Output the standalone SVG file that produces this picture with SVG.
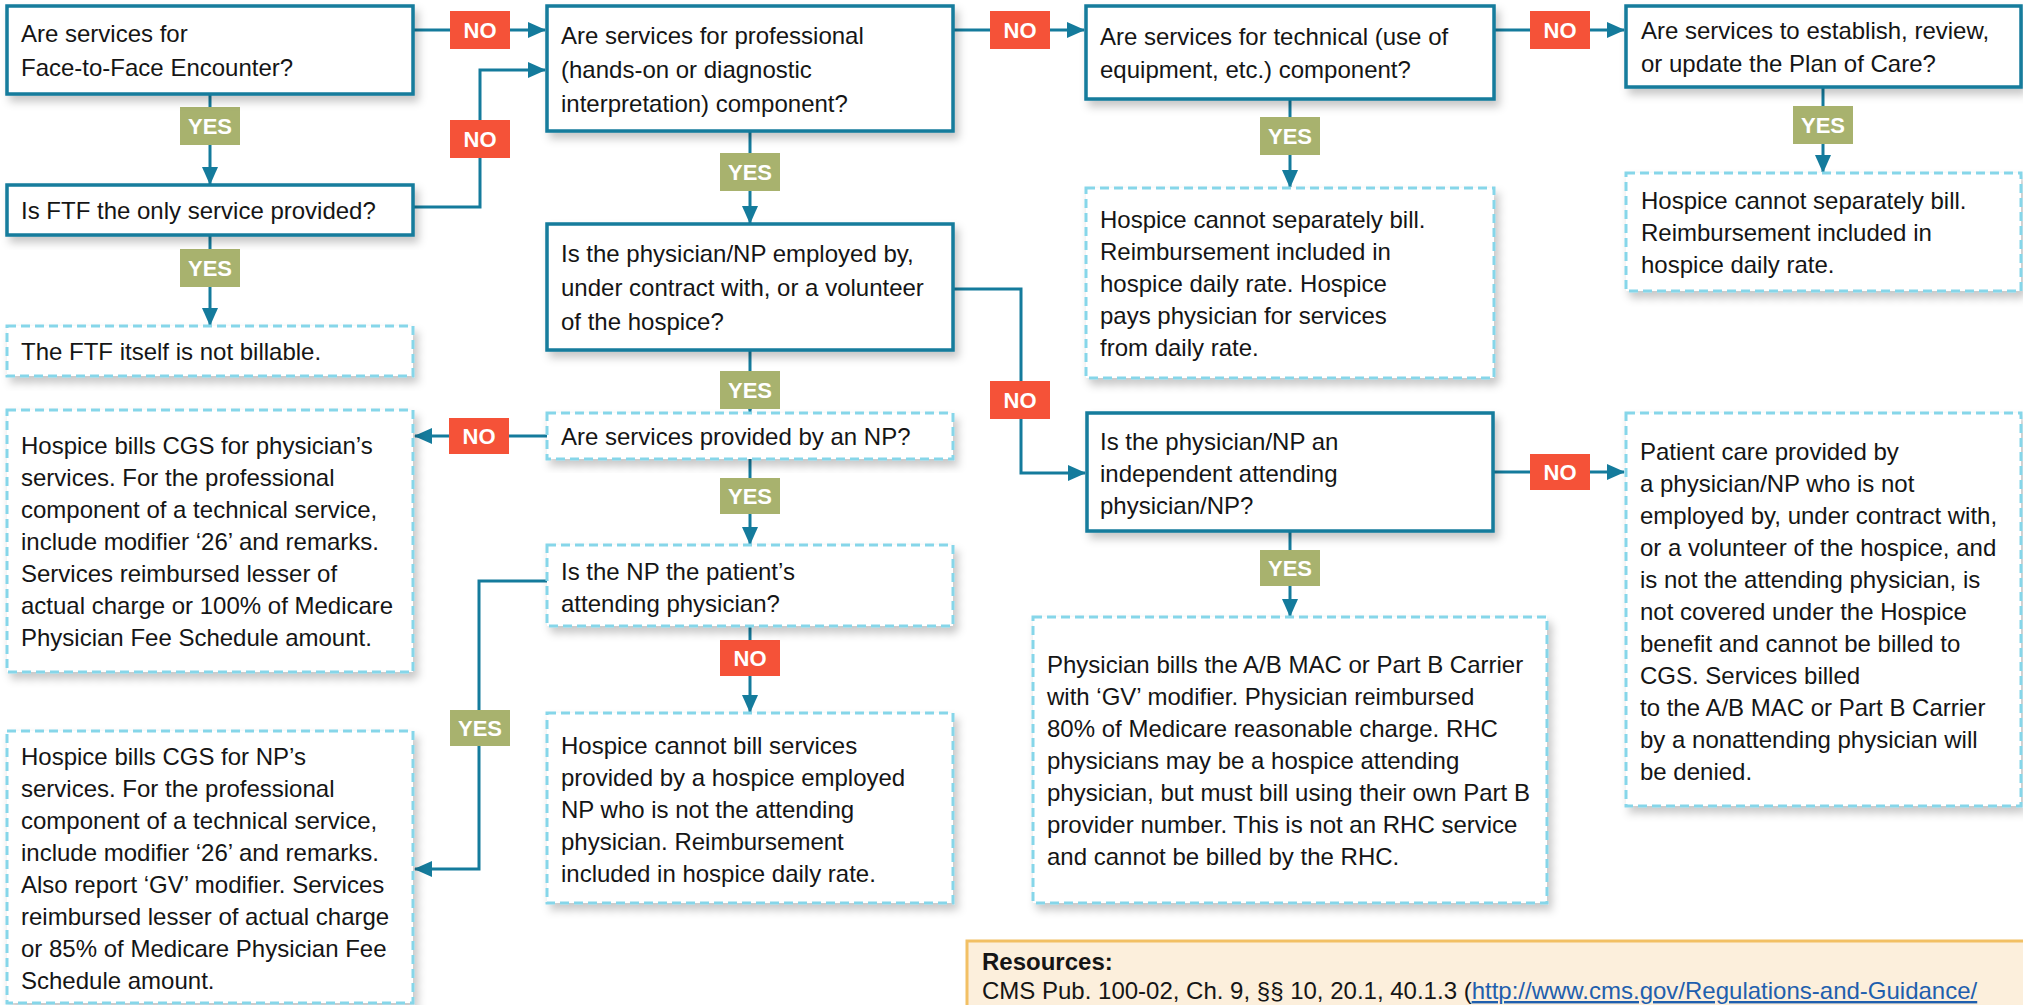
<svg xmlns="http://www.w3.org/2000/svg" width="2023" height="1005" viewBox="0 0 2023 1005">
<style>
.t{font-family:"Liberation Sans",Arial,sans-serif;font-size:24px;fill:#151515}
.solid{fill:#fff;stroke:#147b9c;stroke-width:3.5}
.dash{fill:#fff;stroke:#86d6e9;stroke-width:3;stroke-dasharray:9 5}
.c{fill:none;stroke:#147b9c;stroke-width:3}
.no{fill:#f55238}
.yes{fill:#a8b26e}
.lt{font-family:"Liberation Sans",Arial,sans-serif;font-size:22px;font-weight:bold;fill:#fff;text-anchor:middle}
</style>
<defs>
<marker id="ah" markerWidth="18" markerHeight="16" refX="17" refY="8" orient="auto" markerUnits="userSpaceOnUse">
<path d="M0,0 L18,8 L0,16 Z" fill="#147b9c"/>
</marker>
<filter id="sh" x="-10%" y="-10%" width="130%" height="140%">
<feDropShadow dx="4" dy="6" stdDeviation="4" flood-color="#000" flood-opacity="0.22"/>
</filter>
</defs>
<rect width="2023" height="1005" fill="#fff"/>

<g id="connectors">
<path class="c" d="M413,30 H545" marker-end="url(#ah)"/>
<path class="c" d="M413,207 H480 V70 H545" marker-end="url(#ah)"/>
<path class="c" d="M210,94 V184" marker-end="url(#ah)"/>
<path class="c" d="M210,235 V325" marker-end="url(#ah)"/>
<path class="c" d="M953,30 H1084" marker-end="url(#ah)"/>
<path class="c" d="M1494,30 H1624" marker-end="url(#ah)"/>
<path class="c" d="M750,131 V223" marker-end="url(#ah)"/>
<path class="c" d="M1290,99 V187" marker-end="url(#ah)"/>
<path class="c" d="M1823,87 V172" marker-end="url(#ah)"/>
<path class="c" d="M953,289 H1021 V473 H1085" marker-end="url(#ah)"/>
<path class="c" d="M750,350 V412" marker-end="url(#ah)"/>
<path class="c" d="M547,436 H415" marker-end="url(#ah)"/>
<path class="c" d="M750,458 V544" marker-end="url(#ah)"/>
<path class="c" d="M750,626 V712" marker-end="url(#ah)"/>
<path class="c" d="M547,581 H479 V869 H415" marker-end="url(#ah)"/>
<path class="c" d="M1493,472 H1624" marker-end="url(#ah)"/>
<path class="c" d="M1290,531 V616" marker-end="url(#ah)"/>
<rect class="no" x="450" y="11" width="60" height="38"/><text class="lt" x="480" y="38">NO</text>
<rect class="no" x="450" y="120" width="60" height="38"/><text class="lt" x="480" y="147">NO</text>
<rect class="yes" x="180" y="107" width="60" height="38"/><text class="lt" x="210" y="134">YES</text>
<rect class="yes" x="180" y="249" width="60" height="38"/><text class="lt" x="210" y="276">YES</text>
<rect class="no" x="990" y="11" width="60" height="38"/><text class="lt" x="1020" y="38">NO</text>
<rect class="no" x="1530" y="11" width="60" height="38"/><text class="lt" x="1560" y="38">NO</text>
<rect class="yes" x="720" y="153" width="60" height="38"/><text class="lt" x="750" y="180">YES</text>
<rect class="yes" x="1260" y="117" width="60" height="38"/><text class="lt" x="1290" y="144">YES</text>
<rect class="yes" x="1793" y="106" width="60" height="38"/><text class="lt" x="1823" y="133">YES</text>
<rect class="no" x="990" y="381" width="60" height="38"/><text class="lt" x="1020" y="408">NO</text>
<rect class="yes" x="720" y="371" width="60" height="38"/><text class="lt" x="750" y="398">YES</text>
<rect class="no" x="449" y="418" width="60" height="36"/><text class="lt" x="479" y="444">NO</text>
<rect class="yes" x="720" y="478" width="60" height="36"/><text class="lt" x="750" y="504">YES</text>
<rect class="no" x="720" y="640" width="60" height="36"/><text class="lt" x="750" y="666">NO</text>
<rect class="yes" x="450" y="710" width="60" height="36"/><text class="lt" x="480" y="736">YES</text>
<rect class="no" x="1530" y="454" width="60" height="36"/><text class="lt" x="1560" y="480">NO</text>
<rect class="yes" x="1260" y="550" width="60" height="36"/><text class="lt" x="1290" y="576">YES</text>
</g>

<g id="q-ftf">
<rect class="solid" x="7" y="6" width="406" height="88" filter="url(#sh)"/>
<text class="t"><tspan x="21" y="42">Are services for</tspan><tspan x="21" y="76">Face-to-Face Encounter?</tspan></text>
</g>
<g id="q-ftf-only">
<rect class="solid" x="7" y="185" width="406" height="50" filter="url(#sh)"/>
<text class="t" x="21" y="219">Is FTF the only service provided?</text>
</g>
<g id="r-ftf">
<rect class="dash" x="7" y="326" width="406" height="50" filter="url(#sh)"/>
<text class="t" x="21" y="360">The FTF itself is not billable.</text>
</g>
<g id="q-professional">
<rect class="solid" x="547" y="6" width="406" height="125" filter="url(#sh)"/>
<text class="t"><tspan x="561" y="44">Are services for professional</tspan><tspan x="561" y="78">(hands-on or diagnostic</tspan><tspan x="561" y="112">interpretation) component?</tspan></text>
</g>
<g id="q-employed">
<rect class="solid" x="547" y="224" width="406" height="126" filter="url(#sh)"/>
<text class="t"><tspan x="561" y="262">Is the physician/NP employed by,</tspan><tspan x="561" y="296">under contract with, or a volunteer</tspan><tspan x="561" y="330">of the hospice?</tspan></text>
</g>
<g id="q-technical">
<rect class="solid" x="1086" y="6" width="408" height="93" filter="url(#sh)"/>
<text class="t"><tspan x="1100" y="45">Are services for technical (use of</tspan><tspan x="1100" y="78">equipment, etc.) component?</tspan></text>
</g>
<g id="r-technical">
<rect class="dash" x="1086" y="188" width="408" height="190" filter="url(#sh)"/>
<text class="t"><tspan x="1100" y="228">Hospice cannot separately bill.</tspan><tspan x="1100" y="260">Reimbursement included in</tspan><tspan x="1100" y="292">hospice daily rate. Hospice</tspan><tspan x="1100" y="324">pays physician for services</tspan><tspan x="1100" y="356">from daily rate.</tspan></text>
</g>
<g id="q-plan">
<rect class="solid" x="1626" y="6" width="395" height="81" filter="url(#sh)"/>
<text class="t"><tspan x="1641" y="39">Are services to establish, review,</tspan><tspan x="1641" y="72">or update the Plan of Care?</tspan></text>
</g>
<g id="r-plan">
<rect class="dash" x="1626" y="173" width="395" height="118" filter="url(#sh)"/>
<text class="t"><tspan x="1641" y="209">Hospice cannot separately bill.</tspan><tspan x="1641" y="241">Reimbursement included in</tspan><tspan x="1641" y="273">hospice daily rate.</tspan></text>
</g>
<g id="r-physician-cgs">
<rect class="dash" x="7" y="410" width="406" height="262" filter="url(#sh)"/>
<text class="t"><tspan x="21" y="454">Hospice bills CGS for physician’s</tspan><tspan x="21" y="486">services. For the professional</tspan><tspan x="21" y="518">component of a technical service,</tspan><tspan x="21" y="550">include modifier ‘26’ and remarks.</tspan><tspan x="21" y="582">Services reimbursed lesser of</tspan><tspan x="21" y="614">actual charge or 100% of Medicare</tspan><tspan x="21" y="646">Physician Fee Schedule amount.</tspan></text>
</g>
<g id="r-np-cgs">
<rect class="dash" x="7" y="731" width="406" height="272" filter="url(#sh)"/>
<text class="t"><tspan x="21" y="765">Hospice bills CGS for NP’s</tspan><tspan x="21" y="797">services. For the professional</tspan><tspan x="21" y="829">component of a technical service,</tspan><tspan x="21" y="861">include modifier ‘26’ and remarks.</tspan><tspan x="21" y="893">Also report ‘GV’ modifier. Services</tspan><tspan x="21" y="925">reimbursed lesser of actual charge</tspan><tspan x="21" y="957">or 85% of Medicare Physician Fee</tspan><tspan x="21" y="989">Schedule amount.</tspan></text>
</g>
<g id="q-np">
<rect class="dash" x="547" y="413" width="406" height="46" filter="url(#sh)"/>
<text class="t" x="561" y="445">Are services provided by an NP?</text>
</g>
<g id="q-np-attending">
<rect class="dash" x="547" y="545" width="406" height="81" filter="url(#sh)"/>
<text class="t"><tspan x="561" y="580">Is the NP the patient’s</tspan><tspan x="561" y="612">attending physician?</tspan></text>
</g>
<g id="r-np-not-attending">
<rect class="dash" x="547" y="713" width="406" height="190" filter="url(#sh)"/>
<text class="t"><tspan x="561" y="754">Hospice cannot bill services</tspan><tspan x="561" y="786">provided by a hospice employed</tspan><tspan x="561" y="818">NP who is not the attending</tspan><tspan x="561" y="850">physician. Reimbursement</tspan><tspan x="561" y="882">included in hospice daily rate.</tspan></text>
</g>
<g id="q-independent">
<rect class="solid" x="1087" y="413" width="406" height="118" filter="url(#sh)"/>
<text class="t"><tspan x="1100" y="450">Is the physician/NP an</tspan><tspan x="1100" y="482">independent attending</tspan><tspan x="1100" y="514">physician/NP?</tspan></text>
</g>
<g id="r-independent">
<rect class="dash" x="1033" y="617" width="514" height="286" filter="url(#sh)"/>
<text class="t"><tspan x="1047" y="673">Physician bills the A/B MAC or Part B Carrier</tspan><tspan x="1047" y="705">with ‘GV’ modifier. Physician reimbursed</tspan><tspan x="1047" y="737">80% of Medicare reasonable charge. RHC</tspan><tspan x="1047" y="769">physicians may be a hospice attending</tspan><tspan x="1047" y="801">physician, but must bill using their own Part B</tspan><tspan x="1047" y="833">provider number. This is not an RHC service</tspan><tspan x="1047" y="865">and cannot be billed by the RHC.</tspan></text>
</g>
<g id="r-not-covered">
<rect class="dash" x="1626" y="413" width="395" height="393" filter="url(#sh)"/>
<text class="t"><tspan x="1640" y="460">Patient care provided by</tspan><tspan x="1640" y="492">a physician/NP who is not</tspan><tspan x="1640" y="524">employed by, under contract with,</tspan><tspan x="1640" y="556">or a volunteer of the hospice, and</tspan><tspan x="1640" y="588">is not the attending physician, is</tspan><tspan x="1640" y="620">not covered under the Hospice</tspan><tspan x="1640" y="652">benefit and cannot be billed to</tspan><tspan x="1640" y="684">CGS. Services billed</tspan><tspan x="1640" y="716">to the A/B MAC or Part B Carrier</tspan><tspan x="1640" y="748">by a nonattending physician will</tspan><tspan x="1640" y="780">be denied.</tspan></text>
</g>
<g id="resources">
<rect x="967" y="941" width="1060" height="80" fill="#fcefdc" stroke="#f2c064" stroke-width="3"/>
<text class="t" x="982" y="970" font-weight="bold">Resources:</text>
<text class="t" x="982" y="999">CMS Pub. 100-02, Ch. 9, §§ 10, 20.1, 40.1.3 (<tspan fill="#1f5fae" text-decoration="underline">http://www.cms.gov/Regulations-and-Guidance/</tspan></text>
</g>
</svg>
